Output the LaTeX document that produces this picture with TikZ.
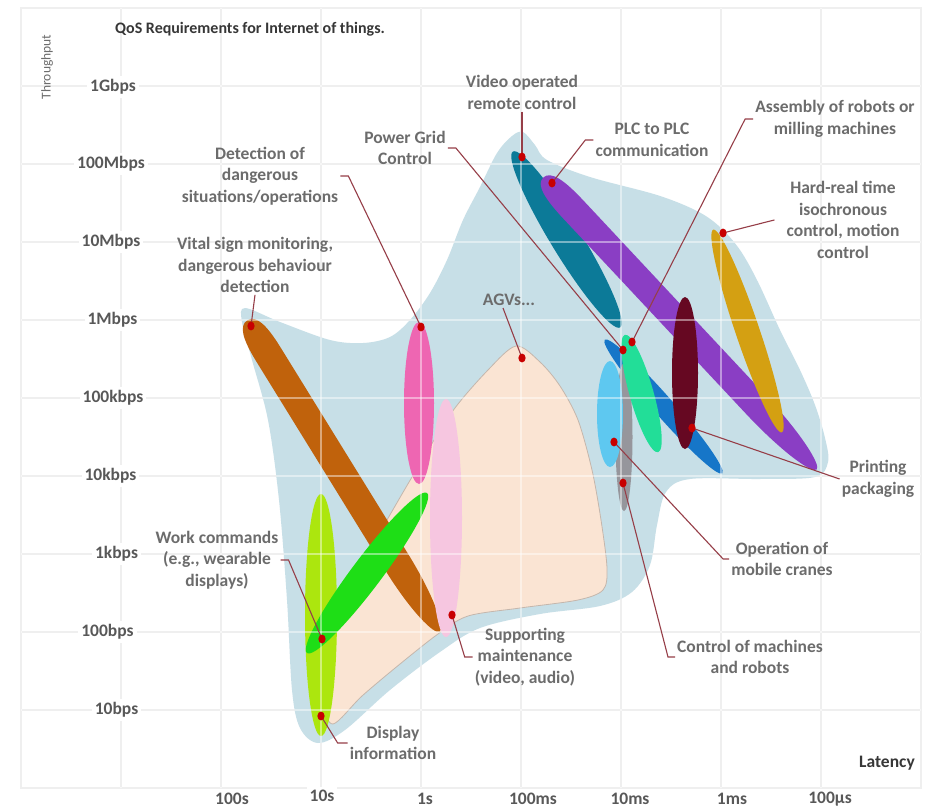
\documentclass[tikz,border=0pt]{standalone}
\usepackage{fontspec}
\setmainfont{Carlito}
\usetikzlibrary{calc}
\definecolor{bgblue}{RGB}{199,223,231}
\definecolor{peach}{RGB}{250,228,211}
\definecolor{peachline}{RGB}{196,182,172}
\definecolor{cbrown}{RGB}{192,98,12}
\definecolor{cmagenta}{RGB}{238,102,178}
\definecolor{clpink}{RGB}{246,198,224}
\definecolor{clime}{RGB}{172,230,14}
\definecolor{cgreen}{RGB}{30,222,22}
\definecolor{cteal}{RGB}{12,122,152}
\definecolor{cpurple}{RGB}{138,62,196}
\definecolor{cgold}{RGB}{212,160,18}
\definecolor{cmaroon}{RGB}{102,8,34}
\definecolor{cblue}{RGB}{22,118,200}
\definecolor{cmint}{RGB}{34,222,152}
\definecolor{cgray}{RGB}{150,150,156}
\definecolor{clblue}{RGB}{94,200,240}
\definecolor{dotred}{RGB}{200,0,0}
\definecolor{conncol}{RGB}{150,62,72}
\definecolor{gridcol}{RGB}{226,226,226}
\definecolor{labgray}{RGB}{108,108,108}
\definecolor{tickgray}{RGB}{88,88,88}
\definecolor{darktext}{RGB}{55,55,55}
\newcommand\reddot[1]{\fill[dotred] (#1) ellipse [x radius=3.6pt, y radius=4.4pt];}
% band: colour, cx, cy, angle, half length, half width
\newcommand\band[6]{\fill[#1, shift={(#2,#3)}, rotate=#4]
  (-#5,0) .. controls (-#5,0.75*#6) and (-0.92*#5,#6) .. (-0.78*#5,#6)
  -- (0.55*#5,#6) .. controls (0.82*#5,#6) and (#5,0.45*#6) .. (#5,0)
  .. controls (#5,-0.45*#6) and (0.82*#5,-#6) .. (0.55*#5,-#6)
  -- (-0.78*#5,-#6) .. controls (-0.92*#5,-#6) and (-#5,-0.75*#6) .. cycle;}
\begin{document}
\begin{tikzpicture}[x=1pt,y=-1pt,
  lab/.style={font=\bfseries\fontsize{17.5}{21.5}\selectfont, text=labgray, align=center, inner sep=2pt},
  tick/.style={font=\bfseries\fontsize{17.5}{21}\selectfont, text=tickgray, fill=white, inner sep=3pt},
  conn/.style={draw=conncol, line width=1.1pt},
  gridl/.style={draw=gridcol, line width=1.5pt},
  gridover/.style={draw=white, opacity=0.45, line width=1.5pt}]
\useasboundingbox (0,0) rectangle (930,809);
\fill[white] (0,0) rectangle (930,809);
% grid (under)
\draw[gridl] (21,8) rectangle (921,788);
\foreach \gx in {121,221,...,821} {\draw[gridl] (\gx,8) -- (\gx,788);}
\foreach \gy in {86,164,...,710} {\draw[gridl] (21,\gy) -- (921,\gy);}
% light blue region
\fill[bgblue] plot[smooth cycle, tension=0.55] coordinates {
 (245,308) (280,322) (330,340) (363,343) (390,337) (410,320) (430,293)
 (447,260) (463,220) (480,187) (497,153) (512,136) (523,132) (535,145)
 (547,160) (590,177) (657,195) (697,211) (720,227) (740,250) (758,282)
 (780,330) (800,370) (815,405) (825,438) (828,462) (815,477) (760,479)
 (690,479) (666,492) (657,525) (650,565) (632,592) (600,606) (540,614)
 (480,628) (440,652) (390,690) (345,730) (318,743) (300,728) (292,690)
 (287,600) (279,500) (268,420) (252,360) (242,322)};
% peach region
\filldraw[fill=peach, draw=peachline, line width=0.8pt] plot[smooth cycle, tension=0.5] coordinates {
 (516,346) (540,362) (560,386) (578,420) (592,470) (601,520) (607,568)
 (603,590) (578,600) (520,608) (468,616) (438,634) (400,664) (362,696)
 (333,724) (323,700) (323,640) (345,592) (380,532) (415,472) (452,412)
 (488,370)};
% left cluster
\band{cbrown}{343.5}{476}{-58.3}{183}{14}
\fill[cmagenta] (419,403) ellipse [x radius=15pt, y radius=81pt];
\fill[clpink] (446,518) ellipse [x radius=16pt, y radius=119pt];
\fill[clime] (321,615) ellipse [x radius=16pt, y radius=121pt];
\fill[cgreen, rotate around={53.1:(367,573)}] (367,573) ellipse [x radius=100pt, y radius=15pt];
% right cluster
\fill[cteal, rotate around={-58.6:(566.5,239.5)}] (566.5,239.5) ellipse [x radius=103pt, y radius=15.5pt];
\band{cpurple}{680}{323.5}{-46.9}{200}{13.5}
\fill[cgold, rotate around={-71.3:(747.5,331)}] (747.5,331) ellipse [x radius=107pt, y radius=12pt];
\fill[cblue, rotate around={-48.7:(663.5,406.5)}] (663.5,406.5) ellipse [x radius=89pt, y radius=10pt];
\fill[cgray] (624,437) ellipse [x radius=8.5pt, y radius=74pt];
\fill[clblue] (610,414) ellipse [x radius=13pt, y radius=53pt];
\fill[cmint, rotate around={-74.2:(641.5,393.5)}] (641.5,393.5) ellipse [x radius=61pt, y radius=12pt];
\fill[cmaroon] (685,373) ellipse [x radius=13pt, y radius=76pt];
% grid overlay
\draw[gridover] (21,8) rectangle (921,788);
\foreach \gx in {121,221,...,821} {\draw[gridover] (\gx,8) -- (\gx,788);}
\foreach \gy in {86,164,...,710} {\draw[gridover] (21,\gy) -- (921,\gy);}
% dot anchors
\coordinate (dvid) at (522,157);
\coordinate (dplc) at (552,183);
\coordinate (dasm) at (632,342);
\coordinate (dpgc) at (623,350);
\coordinate (ddet) at (421,327);
\coordinate (dvital) at (251,326);
\coordinate (dhard) at (723,233);
\coordinate (dagv) at (522,358);
\coordinate (dprint) at (692,428);
\coordinate (dcrane) at (614,442);
\coordinate (dctrl) at (623,483);
\coordinate (dsupp) at (452,615);
\coordinate (dwork) at (322,639);
\coordinate (ddisp) at (321,716);
% labels
\node[lab] (vid) at (522,92.5) {Video operated\\remote control};
\node[lab] (plc) at (652,140) {PLC to PLC\\communication};
\node[lab] (asm) at (835,119) {Assembly of robots or\\milling machines};
\node[lab] (hard) at (843,220) {Hard-real time\\isochronous\\control, motion\\control};
\node[lab] (pgc) at (405,148) {Power Grid\\Control};
\node[lab] (det) at (260,176) {Detection of\\dangerous\\situations/operations};
\node[lab] (vital) at (255,265) {Vital sign monitoring,\\dangerous behaviour\\detection};
\node[lab] (agv) at (509,300) {AGVs...};
\node[lab] (print) at (878,479) {Printing\\packaging};
\node[lab] (crane) at (782,559) {Operation of\\mobile cranes};
\node[lab] (ctrl) at (750,657) {Control of machines\\and robots};
\node[lab] (supp) at (525,657) {Supporting\\maintenance\\(video, audio)};
\node[lab] (work) at (217,560) {Work commands\\(e.g., wearable\\displays)};
\node[lab] (disp) at (393,743) {Display\\information};
% connectors
\draw[conn] (vid.south) -- (dvid);
\draw[conn] (plc.west) -- ++(-8,0) -- (dplc);
\draw[conn] (asm.west) -- ++(-8,0) -- (dasm);
\draw[conn] ([xshift=-10pt]hard.west) -- ++(-8,2) -- (dhard);
\draw[conn] (pgc.east) -- ++(8,0) -- (dpgc);
\draw[conn] (det.east) -- ++(8,0) -- (ddet);
\draw[conn] (vital.south) -- (dvital);
\draw[conn] ([xshift=-6pt]agv.south) -- (dagv);
\draw[conn] (print.west) -- (dprint);
\draw[conn] (crane.west) -- ++(-6,0) -- (dcrane);
\draw[conn] (ctrl.west) -- ++(-7,0) -- (dctrl);
\draw[conn] (supp.west) -- ++(-8,0) -- (dsupp);
\draw[conn] (work.east) -- ++(8,0) -- (dwork);
\draw[conn] (disp.west) -- ++(-10,0) -- (ddisp);
% red dots
\foreach \d in {dvid,dplc,dasm,dpgc,ddet,dvital,dhard,dagv,dprint,dcrane,dctrl,dsupp,dwork,ddisp} {\reddot{\d}}
% axis labels
\node[tick] (y1) at (113,87) {1Gbps};
\node[tick] (y2) at (111,164) {100Mbps};
\node[tick] (y3) at (111,242) {10Mbps};
\node[tick] (y4) at (112.5,320) {1Mbps};
\node[tick] (y5) at (113,398) {100kbps};
\node[tick] (y6) at (110.5,476) {10kbps};
\node[tick] (y7) at (116.5,554) {1kbps};
\node[tick] (y8) at (107.5,632) {100bps};
\node[tick] (y9) at (116.5,710) {10bps};
\node[tick] (x1) at (232,799) {100s};
\node[tick] (x2) at (322,796) {10s};
\node[tick] (x3) at (425,799) {1s};
\node[tick] (x4) at (533,799) {100ms};
\node[tick] (x5) at (630,799) {10ms};
\node[tick] (x6) at (732,799) {1ms};
\node[tick] (x7) at (830,799) {100µs};
\node[font=\bfseries\fontsize{16}{19}\selectfont, text=darktext, anchor=west, inner sep=0pt] (title) at (115,29) {QoS Requirements for Internet of things.};
\node[font=\fontsize{13.5}{16}\selectfont, text=labgray, rotate=90, inner sep=0pt] (ylab) at (47,67) {Throughput};
\node[font=\bfseries\fontsize{17.5}{21}\selectfont, text=darktext, inner sep=0pt] (xlab) at (887,763) {Latency};
\end{tikzpicture}
\end{document}
